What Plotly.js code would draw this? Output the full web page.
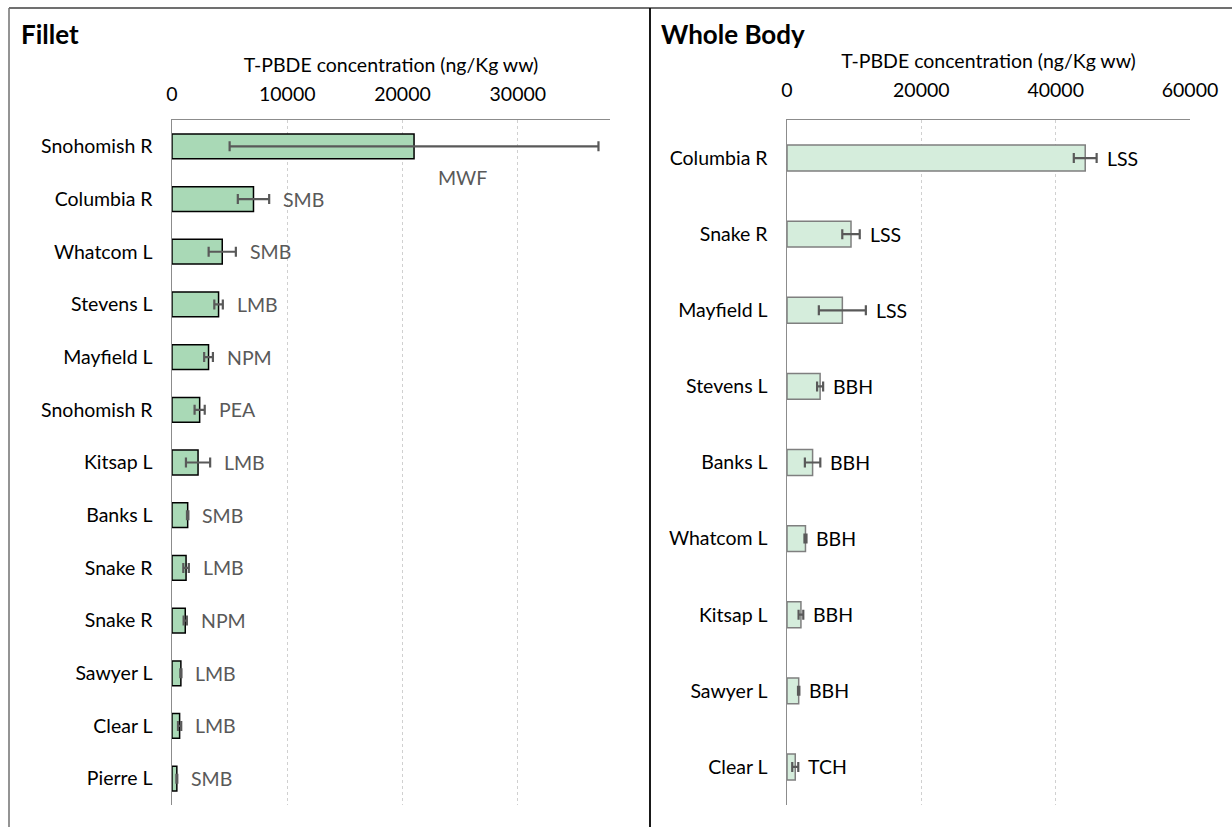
<!DOCTYPE html>
<html>
<head>
<meta charset="utf-8">
<script src="https://cdn.plot.ly/plotly-3.0.1.min.js"></script>
<style>
  html, body { margin: 0; padding: 0; background: #fff; }
  #chart { width: 1232px; height: 827px; }
</style>
</head>
<body>
<div id="chart"></div>
<script>
// ---- Fillet panel data ----
const filletSites   = ["Snohomish R", "Columbia R", "Whatcom L", "Stevens L", "Mayfield L", "Snohomish R", "Kitsap L", "Banks L", "Snake R", "Snake R", "Sawyer L", "Clear L", "Pierre L"];
const filletSpecies = ["MWF", "SMB", "SMB", "LMB", "NPM", "PEA", "LMB", "SMB", "LMB", "NPM", "LMB", "LMB", "SMB"];
const filletValues  = [21000, 7070, 4360, 4040, 3170, 2400, 2260, 1360, 1220, 1150, 770, 660, 420];
const filletErrors  = [16000, 1360, 1180, 370, 380, 440, 1050, 60, 240, 140, 50, 140, 40];
const filletTicks   = [0, 10000, 20000, 30000];

// ---- Whole Body panel data ----
const wholeSites   = ["Columbia R", "Snake R", "Mayfield L", "Stevens L", "Banks L", "Whatcom L", "Kitsap L", "Sawyer L", "Clear L"];
const wholeSpecies = ["LSS", "LSS", "LSS", "BBH", "BBH", "BBH", "BBH", "BBH", "TCH"];
const wholeValues  = [44400, 9530, 8240, 4930, 3810, 2750, 2075, 1740, 1230];
const wholeErrors  = [1700, 1300, 3500, 450, 1150, 150, 350, 100, 450];
const wholeTicks   = [0, 20000, 40000, 60000];

const axisTitle = "T-PBDE concentration (ng/Kg ww)";
const FONT = "Lato, 'Open Sans', sans-serif";
const FS = 19.5;
const W = 1232, H = 827;

const fIdx = filletSites.map((_, i) => i);
const wIdx = wholeSites.map((_, i) => i);

const traces = [
  {
    type: "bar", orientation: "h", x: filletValues, y: fIdx,
    xaxis: "x", yaxis: "y", width: 0.47,
    marker: { color: "#a9d9b6", line: { color: "#000000", width: 1.5 } },
    error_x: { type: "data", array: filletErrors, visible: true, color: "#595959", thickness: 2.2, width: 5 },
    hoverinfo: "x+text", text: filletSpecies, textposition: "none"
  },
  {
    type: "bar", orientation: "h", x: wholeValues, y: wIdx,
    xaxis: "x2", yaxis: "y2", width: 0.34,
    marker: { color: "#d5eddc", line: { color: "#7f7f7f", width: 1.5 } },
    error_x: { type: "data", array: wholeErrors, visible: true, color: "#595959", thickness: 2.2, width: 5 },
    hoverinfo: "x+text", text: wholeSpecies, textposition: "none"
  }
];

const annotations = [];
filletSpecies.forEach((s, i) => {
  const end = filletValues[i] + filletErrors[i];
  if (i === 0) {
    annotations.push({ xref: "x", yref: "y", x: filletValues[i], y: i, text: s, showarrow: false,
      xanchor: "left", xshift: 22, yshift: -31, font: { family: FONT, size: FS, color: "#595959" } });
  } else {
    annotations.push({ xref: "x", yref: "y", x: end, y: i, text: s, showarrow: false,
      xanchor: "left", xshift: 12, font: { family: FONT, size: FS, color: "#595959" } });
  }
});
wholeSpecies.forEach((s, i) => {
  const end = wholeValues[i] + wholeErrors[i];
  annotations.push({ xref: "x2", yref: "y2", x: end, y: i, text: s, showarrow: false,
    xanchor: "left", xshift: 8, font: { family: FONT, size: FS, color: "#000000" } });
});
annotations.push({ xref: "paper", yref: "paper", x: 19 / W, y: 1 - 34 / H, text: "<b>Fillet</b>", showarrow: false,
  xanchor: "left", yanchor: "middle", font: { family: FONT, size: 26, color: "#000" } });
annotations.push({ xref: "paper", yref: "paper", x: 659 / W, y: 1 - 34 / H, text: "<b>Whole Body</b>", showarrow: false,
  xanchor: "left", yanchor: "middle", font: { family: FONT, size: 26, color: "#000" } });

const yTop = 1 - 120 / H, yBot = 1 - 805 / H;

function xAx(dom, range, ticks, anchor, standoff, titleStandoff) {
  return {
    domain: dom, range: range, side: "top", anchor: anchor,
    tickvals: ticks, tickformat: "d", ticks: "",
    showgrid: true, gridcolor: "#d0d0d0", griddash: "dot", gridwidth: 1,
    showline: true, linecolor: "#8c8c8c", linewidth: 1.5, zeroline: false,
    tickfont: { family: FONT, size: FS, color: "#000" },
    ticklabelstandoff: standoff,
    title: { text: axisTitle, font: { family: FONT, size: FS, color: "#000" }, standoff: titleStandoff },
    fixedrange: true
  };
}
function yAx(dom, n, labels, anchor) {
  return {
    domain: dom, range: [n - 0.5, -0.5], anchor: anchor,
    tickvals: labels.map((_, i) => i), ticktext: labels, ticks: "",
    showgrid: false, zeroline: false, showline: true, linecolor: "#8c8c8c", linewidth: 1.5,
    tickfont: { family: FONT, size: FS, color: "#000" },
    ticklabelstandoff: 14, fixedrange: true
  };
}

const layout = {
  width: W, height: H,
  margin: { l: 0, r: 0, t: 0, b: 0 },
  paper_bgcolor: "#fff", plot_bgcolor: "rgba(0,0,0,0)",
  showlegend: false, bargap: 0.5,
  font: { family: FONT, size: FS, color: "#000" },
  xaxis: xAx([172 / W, 610 / W], [0, 38000], filletTicks, "y", 10, 4),
  yaxis: yAx([yBot, yTop], filletSites.length, filletSites, "x"),
  xaxis2: xAx([787 / W, 1190 / W], [0, 60000], wholeTicks, "y2", 14, 4),
  yaxis2: yAx([yBot, yTop], wholeSites.length, wholeSites, "x2"),
  annotations: annotations,
  shapes: [
    { type: "line", xref: "paper", yref: "paper", x0: 9 / W, x1: 1, y0: 1 - 8 / H, y1: 1 - 8 / H, line: { color: "#404040", width: 1.5 } },
    { type: "line", xref: "paper", yref: "paper", x0: 9 / W, x1: 9 / W, y0: 0, y1: 1 - 8 / H, line: { color: "#707070", width: 1.5 } },
    { type: "line", xref: "paper", yref: "paper", x0: 650 / W, x1: 650 / W, y0: 0, y1: 1 - 8 / H, line: { color: "#000000", width: 1.8 } }
  ]
};

Plotly.newPlot("chart", traces, layout, { displayModeBar: false, staticPlot: true });
</script>
</body>
</html>
